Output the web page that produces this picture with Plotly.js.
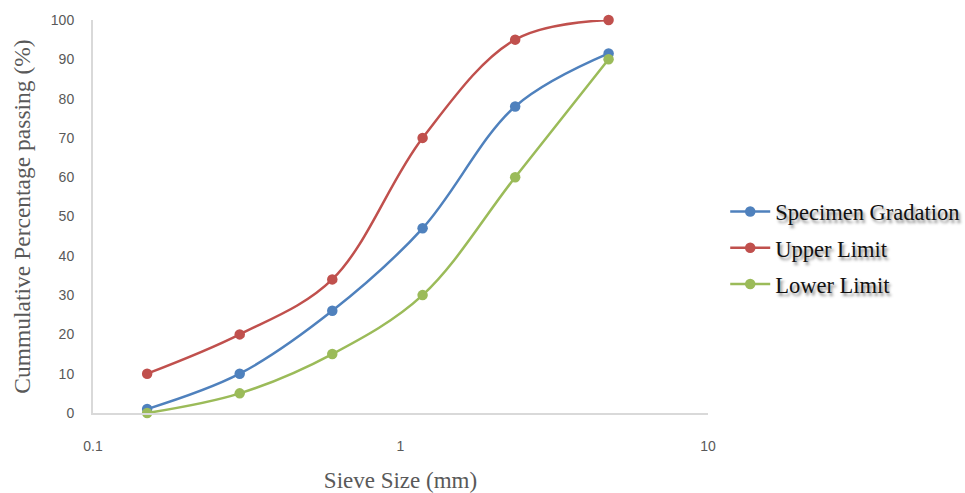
<!DOCTYPE html>
<html>
<head>
<meta charset="utf-8">
<script src="https://cdn.plot.ly/plotly-3.0.1.min.js"></script>
<style>html,body{margin:0;padding:0;background:#fff;}#chart{width:965px;height:493px;}</style>
</head>
<body>
<div id="chart"></div>
<script>
const sieveSizes = [0.15, 0.3, 0.6, 1.18, 2.36, 4.75];
const specimen = [1, 10, 26, 47, 78, 91.5];
const upperLimit = [10, 20, 34, 70, 95, 100];
const lowerLimit = [0, 5, 15, 30, 60, 90];
const seriesNames = ["Specimen Gradation", "Upper Limit", "Lower Limit"];
const colors = ["#4F81BD", "#C0504D", "#9BBB59"];
const yTicks = [0,10,20,30,40,50,60,70,80,90,100];
const xTicks = [0.1, 1, 10];

const series = [specimen, upperLimit, lowerLimit];
const traces = series.map((ys, i) => ({
  x: sieveSizes, y: ys, name: seriesNames[i], type: 'scatter', mode: 'lines+markers',
  legendgroup: 'g' + i,
  line: {color: colors[i], width: 2.5, shape: 'spline', smoothing: 1},
  marker: {color: colors[i], size: 10.5},
  cliponaxis: false
}));

const layout = {
  width: 965, height: 493,
  margin: {l: 93, r: 257, t: 20, b: 80, autoexpand: false},
  paper_bgcolor: '#fff', plot_bgcolor: '#fff',
  showlegend: true,
  legend: {
    x: 1.028, y: 0.42, xanchor: 'left', yanchor: 'middle',
    traceorder: 'grouped', tracegroupgap: 4,
    font: {family: 'Liberation Serif, serif', size: 22.5, color: '#111', shadow: '2px 3px 3px #888'},
    itemwidth: 40, bgcolor: 'rgba(0,0,0,0)'
  },
  xaxis: {
    type: 'log', range: [-1, 1],
    tickvals: xTicks, ticktext: xTicks.map(String),
    showgrid: false, zeroline: false,
    showline: true, linecolor: '#d9d9d9', linewidth: 2,
    ticks: '', ticklabelstandoff: 19,
    tickfont: {family: 'Liberation Sans, Arial, sans-serif', size: 14, color: '#595959'},
    title: {text: 'Sieve Size (mm)', font: {family: 'Liberation Serif, serif', size: 23, color: '#595959'}, standoff: 20}
  },
  yaxis: {
    range: [0, 100], tickvals: yTicks,
    showgrid: false, zeroline: false,
    showline: true, linecolor: '#d9d9d9', linewidth: 2,
    ticks: '', ticklabelstandoff: 14,
    tickfont: {family: 'Liberation Sans, Arial, sans-serif', size: 14, color: '#595959'},
    title: {text: 'Cummulative Percentage passing (%)', font: {family: 'Liberation Serif, serif', size: 23.5, color: '#595959'}, standoff: 14}
  }
};

Plotly.newPlot('chart', traces, layout, {displayModeBar: false, staticPlot: true});
</script>
</body>
</html>
